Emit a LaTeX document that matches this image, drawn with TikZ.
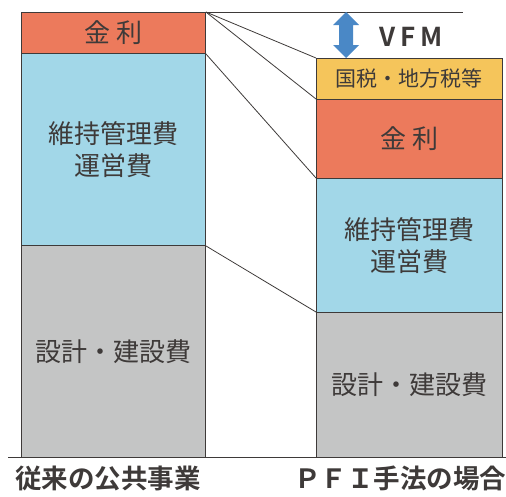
\documentclass[tikz,border=0pt]{standalone}
\usepackage{fontspec}
\setmainfont{Noto Sans CJK JP}
\newfontfamily\jpbold{Noto Sans CJK JP Bold}
\definecolor{kinri}{HTML}{EC7A5C}
\definecolor{iji}{HTML}{A2D7E8}
\definecolor{sekkei}{HTML}{C4C5C5}
\definecolor{zei}{HTML}{F5C55B}
\definecolor{vfm}{HTML}{4A88C6}
\definecolor{ink}{HTML}{3E3A39}
\tikzset{
  blk/.style={draw=ink, line width=0.9pt, inner sep=0pt, anchor=north west,
    align=center, font=\fontsize{26}{32}\selectfont, text=ink},
  link/.style={draw=ink, line width=0.8pt},
  caption/.style={font=\jpbold\fontsize{26.5}{28}\selectfont, text=ink}
}
\begin{document}
\begin{tikzpicture}[x=1pt,y=-1pt]
\useasboundingbox (0,0) rectangle (506,496);
% 従来
\node[blk, fill=kinri, minimum width=184pt, minimum height=41pt] (kinL) at (21,12) {金\hspace{0.2em}利};
\node[blk, fill=iji, minimum width=184pt, minimum height=192pt] (ijiL) at (21,53) {維持管理費\\運営費};
\node[blk, fill=sekkei, minimum width=184pt, minimum height=212pt] (sekL) at (21,245) {設計・建設費};
% PFI
\node[blk, fill=zei, minimum width=186pt, minimum height=41pt, font=\fontsize{21}{24}\selectfont] (zeiR) at (316,58) {国税・地方税等};
\node[blk, fill=kinri, minimum width=186pt, minimum height=79pt] (kinR) at (316,99) {金\hspace{0.2em}利};
\node[blk, fill=iji, minimum width=186pt, minimum height=134pt] (ijiR) at (316,178) {維持管理費\\運営費};
\node[blk, fill=sekkei, minimum width=186pt, minimum height=145pt] (sekR) at (316,312) {設計・建設費};
% lines
\coordinate (topR) at (463,12);
\coordinate (baseL) at (8,457);
\coordinate (baseR) at (506,457);
\draw[link] (kinL.north east) -- (topR);
\draw[link] (kinL.north east) -- (zeiR.north west);
\draw[link] (kinL.north east) -- (kinR.north west);
\draw[link] (kinL.south east) -- (ijiR.north west);
\draw[link] (ijiL.south east) -- (sekR.north west);
\draw[link] (baseL) -- (baseR);
% VFM
\fill[vfm] (346,12) -- (359,25) -- (353,25) -- (353,45) -- (359,45) -- (346,58)
  -- (333,45) -- (339,45) -- (339,25) -- (333,25) -- cycle;
\node[caption, font=\jpbold\fontsize{26}{28}\selectfont] (vfm) at (411,37) {V\hspace{5pt}F\hspace{5pt}M};
\node[caption] (capL) at (108,478) {従来の公共事業};
\node[caption] (capR) at (400,478) {ＰＦＩ手法の場合};
\end{tikzpicture}
\end{document}
